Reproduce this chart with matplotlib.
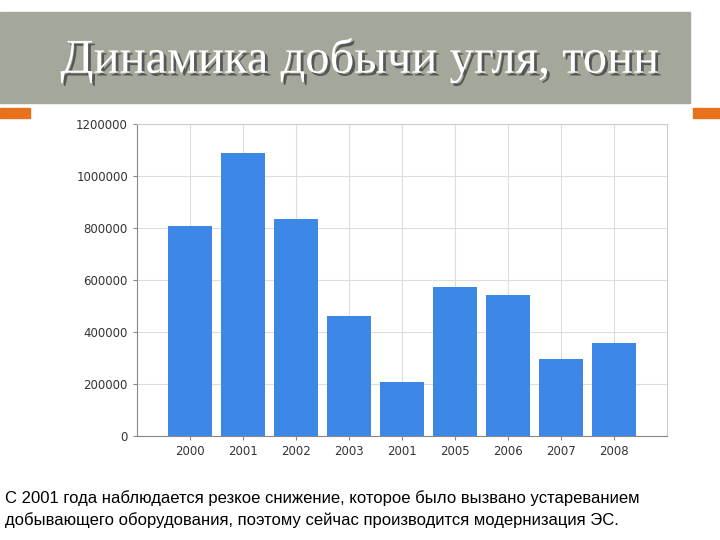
import matplotlib
matplotlib.use("Agg")
import matplotlib.pyplot as plt
import matplotlib.patheffects as pe
from matplotlib.patches import Rectangle

years = ["2000", "2001", "2002", "2003", "2001", "2005", "2006", "2007", "2008"]
values = [808000, 1088000, 835000, 462000, 208000, 573000, 542000, 296000, 358000]
yticks = [0, 200000, 400000, 600000, 800000, 1000000, 1200000]

fig = plt.figure(figsize=(7.2, 5.4), dpi=100)
W, H = 720, 540
fig.patches.append(Rectangle((0, 1 - 103/H), 690/W, 91/H, transform=fig.transFigure,
                             color="#a4a89b", zorder=0))
fig.patches.append(Rectangle((0, 1 - 118/H), 30/W, 10/H, transform=fig.transFigure,
                             color="#e8711c", zorder=0))
fig.patches.append(Rectangle((693/W, 1 - 118/H), 27/W, 10/H, transform=fig.transFigure,
                             color="#e8711c", zorder=0))
fig.text(360/W, 1 - 60/H, "Динамика добычи угля, тонн", ha="center", va="center",
         fontsize=35, family="Liberation Serif", color="white",
         path_effects=[pe.withSimplePatchShadow(offset=(2, -2), shadow_rgbFace="#444444", alpha=0.8)])

ax = fig.add_axes([137/W, 1 - 436/H, 530/W, 312/H])
ax.bar(range(len(values)), values, width=0.82, color="#3d87e6", zorder=3)
ax.set_xlim(-1, len(values))
ax.set_ylim(0, 1200000)
ax.set_yticks(yticks)
ax.set_yticklabels([str(v) for v in yticks], fontsize=8.5, color="#333333")
ax.set_xticks(range(len(values)))
ax.set_xticklabels(years, fontsize=8.5, color="#333333")
ax.grid(True, color="#dddddd", lw=0.8, zorder=0)
for s in ax.spines.values():
    s.set_color("#cccccc")
ax.spines["left"].set_color("#888888")
ax.spines["bottom"].set_color("#888888")
ax.tick_params(length=3, colors="#888888", labelcolor="#333333")

fig.text(5/W, 1 - 498/H, "С 2001 года наблюдается резкое снижение, которое было вызвано устареванием",
         fontsize=12, family="Liberation Sans", va="center")
fig.text(5/W, 1 - 520/H, "добывающего оборудования, поэтому сейчас производится модернизация ЭС.",
         fontsize=12, family="Liberation Sans", va="center")
fig.savefig("out.png", dpi=100)
